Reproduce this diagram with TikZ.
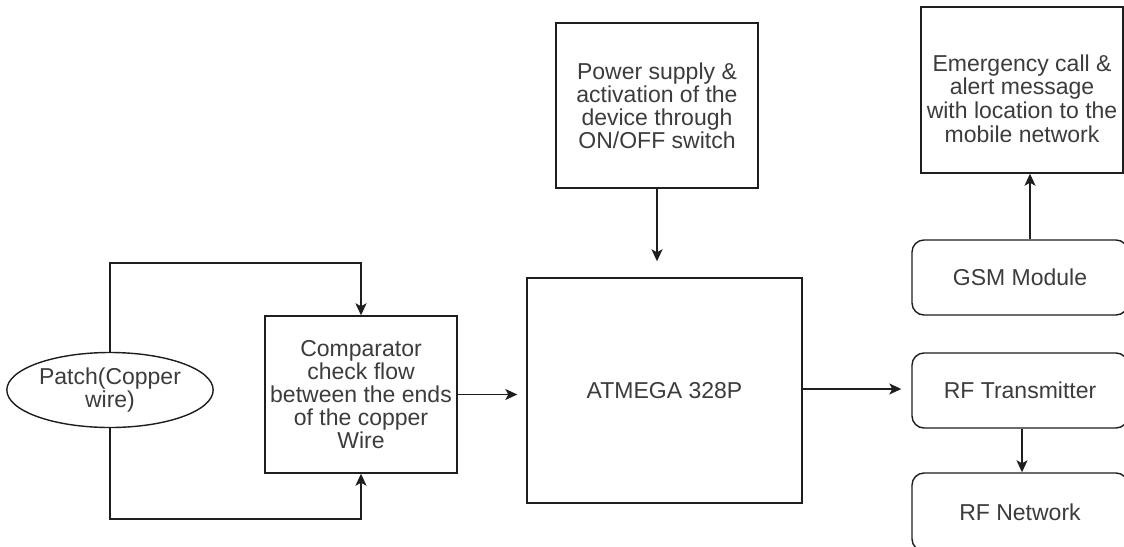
\documentclass[tikz,border=0pt]{standalone}
\usepackage{fontspec}
\setmainfont{Liberation Sans}
\usetikzlibrary{shapes.geometric,arrows.meta}
\definecolor{txt}{RGB}{60,60,60}
\definecolor{ln}{RGB}{30,30,30}
\tikzset{
  base/.style={draw=ln, line width=1.4pt, align=center, text=txt, inner sep=2pt,
    font=\fontsize{23}{23}\selectfont},
  sqbox/.style={base, rectangle},
  rbox/.style={base, rectangle, rounded corners=12pt},
  oval/.style={base, ellipse},
  arr/.style={draw=ln, line width=1.4pt, -{Stealth[length=12pt,width=11pt,inset=3pt]}},
}
\begin{document}
\begin{tikzpicture}[x=1pt,y=-1pt]
\clip (0,0) rectangle (1124,546);
\fill[white] (0,0) rectangle (1124,546);

\node[oval, minimum width=204pt, minimum height=75pt] (patch) at (110,390) {Patch(Copper\\wire)};
\node[sqbox, minimum width=192pt, minimum height=157pt] (comp) at (361,394.5) {Comparator\\check flow\\between the ends\\of the copper\\Wire};
\node[sqbox, minimum width=202pt, minimum height=165pt] (power) at (657,105.5) {Power supply \&\\activation of the\\device through\\ON/OFF switch};
\node[sqbox, minimum width=275pt, minimum height=225pt] (atm) at (664.5,390.5) {ATMEGA 328P};
\node[sqbox, minimum width=202pt, minimum height=166pt] (emerg) at (1022,90) {\raisebox{-18pt}[0pt][0pt]{\begin{tabular}{@{}c@{}}Emergency call \&\\alert message\\with location to the\\mobile network\end{tabular}}};
\node[rbox, minimum width=216pt, minimum height=75pt] (gsm) at (1020,277.5) {GSM Module};
\node[rbox, minimum width=216pt, minimum height=75pt] (rft) at (1020,390.5) {RF Transmitter};
\node[rbox, minimum width=216pt, minimum height=78pt] (rfn) at (1020,512) {RF Network};

\coordinate (topy) at (0,263);
\coordinate (boty) at (0,519);

\draw[arr] (patch.north) |- (topy -| comp.north) -- (comp.north);
\draw[arr] (patch.south) |- (boty -| comp.south) -- (comp.south);
\draw[arr, shorten >=9pt] (comp.east) -- (atm.west |- comp.east);
\draw[arr, shorten >=16pt] (power.south) -- (power.south |- atm.north);
\draw[arr, shorten >=10pt] ([yshift=1.5pt]atm.east) -- ([yshift=1.5pt]rft.west);
\draw[arr] ([xshift=2pt]rft.south) -- ([xshift=2pt]rfn.north);
\draw[arr] ([xshift=10pt]gsm.north) -- ([xshift=8pt]emerg.south);
\end{tikzpicture}
\end{document}
